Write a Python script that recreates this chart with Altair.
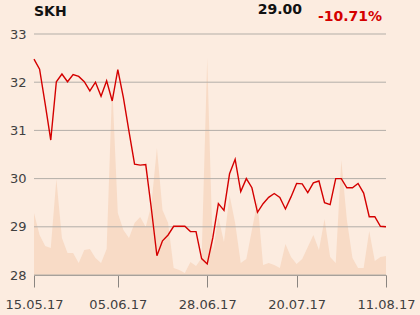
import altair as alt
import pandas as pd

ticker = "SKH"

price = [32.48, 32.27, 31.55, 30.80, 32.01, 32.17, 32.01, 32.16, 32.12, 32.01,
         31.82, 32.00, 31.71, 32.03, 31.61, 32.26, 31.68, 30.98, 30.30, 30.28,
         30.29, 29.38, 28.40, 28.71, 28.83, 29.01, 29.01, 29.01, 28.90, 28.90,
         28.34, 28.23, 28.77, 29.48, 29.34, 30.10, 30.40, 29.73, 30.00, 29.81,
         29.30, 29.48, 29.61, 29.69, 29.61, 29.37, 29.62, 29.90, 29.89, 29.71,
         29.91, 29.95, 29.50, 29.46, 30.00, 30.00, 29.81, 29.81, 29.90, 29.70,
         29.21, 29.21, 29.01, 29.00]

volume = [62, 40, 29, 27, 96, 37, 22, 22, 12, 25,
          26, 17, 12, 26, 190, 62, 45, 37, 52, 58,
          48, 70, 127, 65, 52, 7, 5, 2, 13, 9,
          17, 217, 23, 58, 33, 80, 52, 12, 16, 45,
          74, 10, 12, 10, 7, 31, 18, 11, 16, 28,
          40, 25, 56, 18, 12, 115, 55, 17, 7, 7,
          44, 14, 18, 19]

tick_idx = [0, 15, 31, 47, 63]
tick_labels = ["15.05.17", "05.06.17", "28.06.17", "20.07.17", "11.08.17"]
y_ticks = [28, 29, 30, 31, 32, 33]

df = pd.DataFrame({"i": list(range(len(price))), "price": price, "vol": volume})
grid_df = pd.DataFrame({"g": y_ticks})

last = price[-1]
change = (price[-1] / price[0] - 1) * 100
hdr_last = f"{last:.2f}"
hdr_chg = f"{change:.2f}%"

labels_js = "[" + ",".join(f"'{t}'" for t in tick_labels) + "]"
idx_js = "[" + ",".join(str(v) for v in tick_idx) + "]"
label_expr = f"{labels_js}[indexof({idx_js}, datum.value)]"

FONT = "DejaVu Sans"

x_enc = alt.X(
    "i:Q",
    scale=alt.Scale(domain=[0, len(price) - 1], nice=False, zero=False),
    axis=alt.Axis(
        values=tick_idx, labelExpr=label_expr, grid=False, title=None,
        tickSize=12, tickColor="#8a8580", domainColor="#9a958f",
        labelPadding=11, labelFontSize=13, labelColor="#404040",
        labelFont=FONT, labelFlush=False, labelOverlap=False,
    ),
)

area = alt.Chart(df).mark_area(color="#f8dbc6").encode(
    x=x_enc,
    y=alt.Y("vol:Q", scale=alt.Scale(domain=[0, 241], nice=False), axis=None),
)

grid = alt.Chart(grid_df).mark_rule(color="#b3aea8", strokeWidth=1).encode(
    y=alt.Y("g:Q", scale=alt.Scale(domain=[28, 33], nice=False, zero=False), axis=None),
)

line = alt.Chart(df).mark_line(color="#d40000", strokeWidth=1.4).encode(
    x=x_enc,
    y=alt.Y(
        "price:Q",
        scale=alt.Scale(domain=[28, 33], nice=False, zero=False),
        axis=alt.Axis(
            orient="left", values=y_ticks, grid=False, ticks=False, domain=False,
            tickSize=0, labelPadding=8, labelFontSize=13, labelColor="#404040",
            labelFont=FONT, title=None,
        ),
    ),
)

t1 = alt.Chart(pd.DataFrame({"t": [ticker]})).mark_text(
    font=FONT, fontSize=14, fontWeight="bold", color="#111111", align="left",
    baseline="alphabetic",
).encode(text="t:N", x=alt.value(0), y=alt.value(-18))

t2 = alt.Chart(pd.DataFrame({"t": [hdr_last]})).mark_text(
    font=FONT, fontSize=14, fontWeight="bold", color="#111111", align="right",
    baseline="alphabetic",
).encode(text="t:N", x=alt.value(268), y=alt.value(-20))

t3 = alt.Chart(pd.DataFrame({"t": [hdr_chg]})).mark_text(
    font=FONT, fontSize=14, fontWeight="bold", color="#d40000", align="right",
    baseline="alphabetic",
).encode(text="t:N", x=alt.value(348), y=alt.value(-13))

chart = alt.layer(area, grid, line, t1, t2, t3).resolve_scale(y="independent").properties(
    width=352, height=241,
    autosize=alt.AutoSizeParams(type="none"),
    padding={"left": 34, "top": 34, "right": 34, "bottom": 40},
    background="#fcece0",
).configure_view(stroke=None)

chart.save("out.html", embed_options={"renderer": "svg", "actions": False})
